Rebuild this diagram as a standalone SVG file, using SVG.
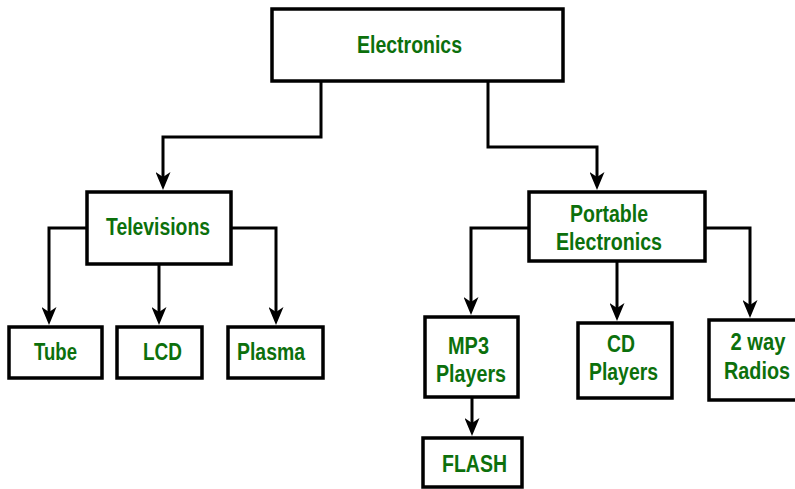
<svg xmlns="http://www.w3.org/2000/svg" width="795" height="489" viewBox="0 0 795 489">
<style>
.box{fill:#fff;stroke:#000;stroke-width:3.5}
.lbl{font-family:"Liberation Sans",Arial,sans-serif;font-weight:bold;font-size:23px;fill:#0c700c;text-anchor:middle}
.edge{fill:none;stroke:#000;stroke-width:3}
</style>
<defs>
<marker id="arr" markerUnits="userSpaceOnUse" markerWidth="18" markerHeight="15" viewBox="0 0 18 15" refX="5" refY="7.5" orient="auto">
<path d="M0,0 L18,7.5 L0,15 L5,7.5 Z" fill="#000"/>
</marker>
</defs>
<rect width="795" height="489" fill="#fff"/>
<g id="connectors">
<path class="edge" d="M321,81 V137 H163 V177" marker-end="url(#arr)"/>
<path class="edge" d="M488,81 V147 H597 V177" marker-end="url(#arr)"/>
<path class="edge" d="M87,228 H49 V312" marker-end="url(#arr)"/>
<path class="edge" d="M159,264 V312" marker-end="url(#arr)"/>
<path class="edge" d="M231,228 H276 V312" marker-end="url(#arr)"/>
<path class="edge" d="M529,228 H471 V302" marker-end="url(#arr)"/>
<path class="edge" d="M617,261 V308" marker-end="url(#arr)"/>
<path class="edge" d="M705,228 H750 V305" marker-end="url(#arr)"/>
<path class="edge" d="M472,397 V423" marker-end="url(#arr)"/>
</g>
<g id="electronics"><rect class="box" x="272" y="9" width="291" height="72"/><text class="lbl" x="409.5" y="53" textLength="105" lengthAdjust="spacingAndGlyphs">Electronics</text></g>
<g id="televisions"><rect class="box" x="87" y="192" width="144" height="72"/><text class="lbl" x="158" y="235" textLength="104" lengthAdjust="spacingAndGlyphs">Televisions</text></g>
<g id="tube"><rect class="box" x="9" y="327" width="93" height="51"/><text class="lbl" x="55.5" y="360" textLength="43" lengthAdjust="spacingAndGlyphs">Tube</text></g>
<g id="lcd"><rect class="box" x="117" y="327" width="85" height="51"/><text class="lbl" x="162.5" y="360" textLength="39" lengthAdjust="spacingAndGlyphs">LCD</text></g>
<g id="plasma"><rect class="box" x="228" y="327" width="95" height="51"/><text class="lbl" x="271" y="360" textLength="68" lengthAdjust="spacingAndGlyphs">Plasma</text></g>
<g id="portable"><rect class="box" x="529" y="192" width="176" height="69"/><text class="lbl" x="609" y="222" textLength="78" lengthAdjust="spacingAndGlyphs">Portable</text><text class="lbl" x="609" y="250" textLength="106" lengthAdjust="spacingAndGlyphs">Electronics</text></g>
<g id="mp3"><rect class="box" x="425" y="317" width="93" height="80"/><text class="lbl" x="468.5" y="354" textLength="41" lengthAdjust="spacingAndGlyphs">MP3</text><text class="lbl" x="471" y="382" textLength="70" lengthAdjust="spacingAndGlyphs">Players</text></g>
<g id="cd"><rect class="box" x="578" y="323" width="94" height="75"/><text class="lbl" x="621" y="352" textLength="28" lengthAdjust="spacingAndGlyphs">CD</text><text class="lbl" x="623.5" y="380" textLength="69" lengthAdjust="spacingAndGlyphs">Players</text></g>
<g id="radios"><rect class="box" x="709" y="320" width="105" height="80"/><text class="lbl" x="758" y="350" textLength="55" lengthAdjust="spacingAndGlyphs">2 way</text><text class="lbl" x="757" y="379" textLength="66" lengthAdjust="spacingAndGlyphs">Radios</text></g>
<g id="flash"><rect class="box" x="423" y="438" width="99" height="49"/><text class="lbl" x="474.5" y="472" textLength="65" lengthAdjust="spacingAndGlyphs">FLASH</text></g>
</svg>
